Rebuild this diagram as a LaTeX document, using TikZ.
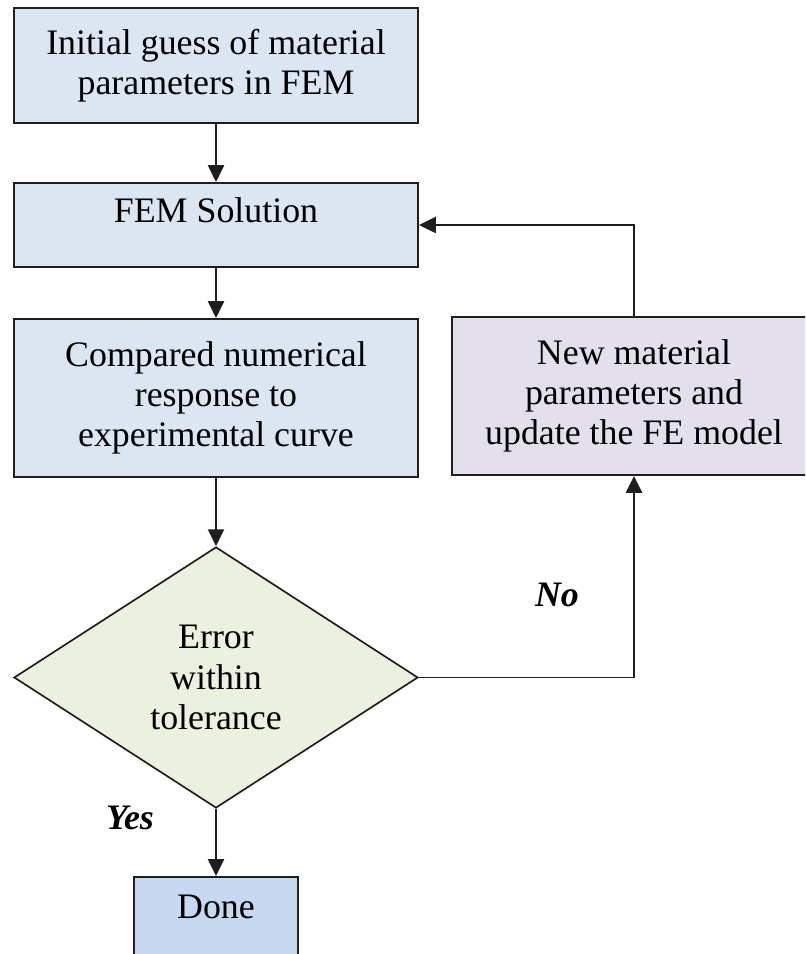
\documentclass[tikz,border=0pt]{standalone}
\usepackage{fontspec}
\setmainfont{Liberation Serif}
\usetikzlibrary{arrows.meta,shapes.geometric}

\definecolor{stepblue}{RGB}{220,230,242}
\definecolor{doneblue}{RGB}{198,217,241}
\definecolor{checkgreen}{RGB}{235,241,222}
\definecolor{updpurple}{RGB}{228,223,236}
\definecolor{edgegray}{RGB}{30,30,30}

\begin{document}
\begin{tikzpicture}[
    font=\fontsize{25.5}{28.5}\selectfont,
    box/.style={draw=edgegray, line width=1.4pt, fill=stepblue, align=center,
        minimum width=10.1cm, inner sep=0pt},
    check/.style={draw=edgegray, line width=1.2pt, fill=checkgreen, diamond,
        aspect=1.548, minimum width=10.1cm, minimum height=6.525cm, inner sep=0pt, align=center},
    flow/.style={draw=edgegray, line width=1.4pt, -{Triangle[length=0.42cm,width=0.4cm]}},
    answer/.style={font=\fontsize{25.5}{28.5}\selectfont\bfseries\itshape}
]
    \clip (0,0) rectangle (20.125,23.85);
    % main column
    \node[box, minimum height=2.875cm] (guess) at (5.4,22.21) {Initial guess of material\\parameters in FEM};
    \node[box, text height=1.0cm, text depth=1.1cm] (fem) at (5.4,18.225) {FEM Solution};
    \node[box, minimum height=3.95cm] (compare) at (5.4,13.9) {Compared numerical\\response to\\experimental curve};
    \node[check] (err) at (5.4,6.9125) {Error\\within\\tolerance};
    \node[box, fill=doneblue, minimum width=4.1cm, anchor=north, text height=1.05cm, text depth=1cm] (done) at (5.4,1.95) {Done};
    % update loop
    \node[box, fill=updpurple, minimum width=9.1cm, minimum height=3.95cm] (update) at (15.85,13.95) {New material\\parameters and\\update the FE model};
    \draw[flow] (guess) -- (fem);
    \draw[flow] (fem) -- (compare);
    \draw[flow] (compare) -- (err);
    \draw[flow] (err) -- (done);
    \draw[flow] (err.east) -| (update.south);
    \draw[flow] (update.north) |- (fem.east);
    \node[answer] (no) at (13.925,8.975) {No};
    \node[answer] (yes) at (3.25,3.4) {Yes};
\end{tikzpicture}
\end{document}
